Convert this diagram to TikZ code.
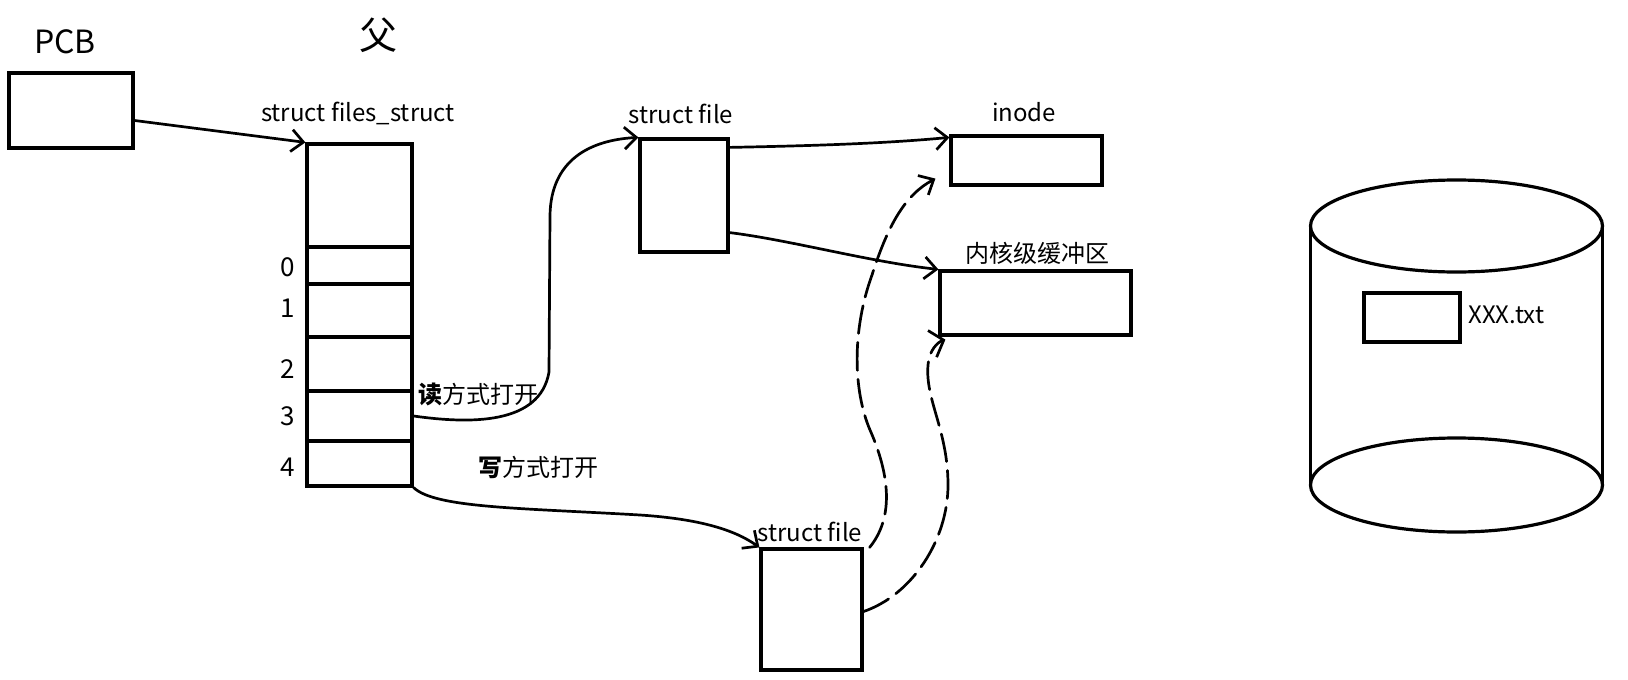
\documentclass[tikz,border=0pt]{standalone}
\usepackage{fontspec}
\newfontfamily\cjk{Noto Sans CJK SC}
\usetikzlibrary{arrows.meta,calc}
\begin{document}
\begin{tikzpicture}[x=0.5pt,y=-0.5pt,
  box/.style={draw,line width=1.6pt,inner sep=0pt},
  lbl/.style={font=\cjk\fontsize{12}{14}\selectfont,inner sep=0pt},
  big/.style={font=\cjk\fontsize{16}{18}\selectfont,inner sep=0pt},
  digit/.style={font=\cjk\fontsize{13}{15}\selectfont,inner sep=0pt},
  conn/.style={line width=1.35pt,line cap=round,-{Straight Barb[length=6pt,width=11pt,line width=1.35pt]}},
  dconn/.style={conn,dash pattern=on 14pt off 4.5pt},
]
\useasboundingbox (0,0) rectangle (1628,680);

% PCB
\node[big] (pcbt) at (65,42) {PCB};
\node[font=\cjk\fontsize{19}{21}\selectfont,inner sep=0pt] (fu) at (378,35) {父};
\node[box,minimum width=62pt,minimum height=37.5pt] (pcb) at (71,110.5) {};

% files_struct table
\node[lbl] (fst) at (358,113) {struct files\_struct};
\node[box,minimum width=52.5pt,minimum height=51.5pt] (ftop) at (359.5,195.5) {};
\node[box,minimum width=52.5pt,minimum height=18.5pt] (c0) at (359.5,265.5) {};
\node[box,minimum width=52.5pt,minimum height=26.5pt] (c1) at (359.5,310.5) {};
\node[box,minimum width=52.5pt,minimum height=27pt] (c2) at (359.5,364) {};
\node[box,minimum width=52.5pt,minimum height=25pt] (c3) at (359.5,416) {};
\node[box,minimum width=52.5pt,minimum height=22.5pt] (c4) at (359.5,463.5) {};
\node[digit] (d0) at (288,267) {0};
\node[digit] (d1) at (288,308) {1};
\node[digit] (d2) at (288,369) {2};
\node[digit] (d3) at (288,416) {3};
\node[digit] (d4) at (288,467) {4};
\node[lbl] (rd) at (478,394) {\textbf{读}方式打开};
\node[lbl] (wr) at (538,467) {\textbf{写}方式打开};

% struct file 1
\node[lbl] (sf1t) at (681,114) {struct file};
\node[box,minimum width=44pt,minimum height=56.5pt] (sf1) at (684,195.5) {};
% inode
\node[lbl] (inodet) at (1024,112) {inode};
\node[box,minimum width=75.5pt,minimum height=24.5pt] (inode) at (1026.5,160.5) {};
% buffer
\node[lbl] (buft) at (1037,253) {内核级缓冲区};
\node[box,minimum width=95.5pt,minimum height=32pt] (buf) at (1035.5,303) {};
% struct file 2
\node[lbl] (sf2t) at (810,532) {struct file};
\node[box,minimum width=50.5pt,minimum height=60.5pt] (sf2) at (811.5,609.5) {};

% disk
\draw[line width=1.6pt] (1456.5,226) ellipse [x radius=73pt, y radius=23pt];
\draw[line width=1.6pt] (1456.5,485) ellipse [x radius=73pt, y radius=23.5pt];
\draw[line width=1.6pt] (1310.5,226) -- (1310.5,485);
\draw[line width=1.6pt] (1602.5,226) -- (1602.5,485);
\node[box,minimum width=48pt,minimum height=24.5pt] (xxx) at (1412,317.5) {};
\node[lbl,anchor=west] (xxxt) at (1468,315) {XXX.txt};

% connectors
\draw[conn] ([yshift=-5pt]pcb.east) -- (ftop.north west);
\draw[conn] (c3.east) .. controls (470,424) and (540,425) .. (549,372)
  -- (550,215) .. controls (551,160) and (590,140) .. (sf1.north west);
\draw[conn] (c4.south east) .. controls (435,508) and (520,508) .. (640,515)
  .. controls (700,519) and (735,530) .. (sf2.north west);
\draw[conn] ([yshift=-5pt]sf1.north east) .. controls (800,146) and (880,144) .. ([yshift=-1.5pt]inode.north west);
\draw[conn] ([yshift=10.5pt]sf1.south east) .. controls (790,240) and (870,262) .. (buf.north west);
\coordinate (d1end) at ($(inode.south west)+(-14,-8)$);
\coordinate (d2end) at ($(buf.south west)+(7,3)$);
\draw[dconn] ([xshift=3pt]sf2.north east) .. controls (892,520) and (892,480) .. (870,430)
  .. controls (853,390) and (852,330) .. (872,275) .. controls (888,225) and (905,195) .. (d1end);
\draw[dconn,-{Straight Barb[length=6pt,width=14pt,line width=1.35pt]}] ([yshift=-1pt]sf2.east) .. controls (912,595) and (948,540) .. (948,485)
  .. controls (948,430) and (925,400) .. (928,365) .. controls (929,350) and (938,342) .. (d2end);
\end{tikzpicture}
\end{document}
